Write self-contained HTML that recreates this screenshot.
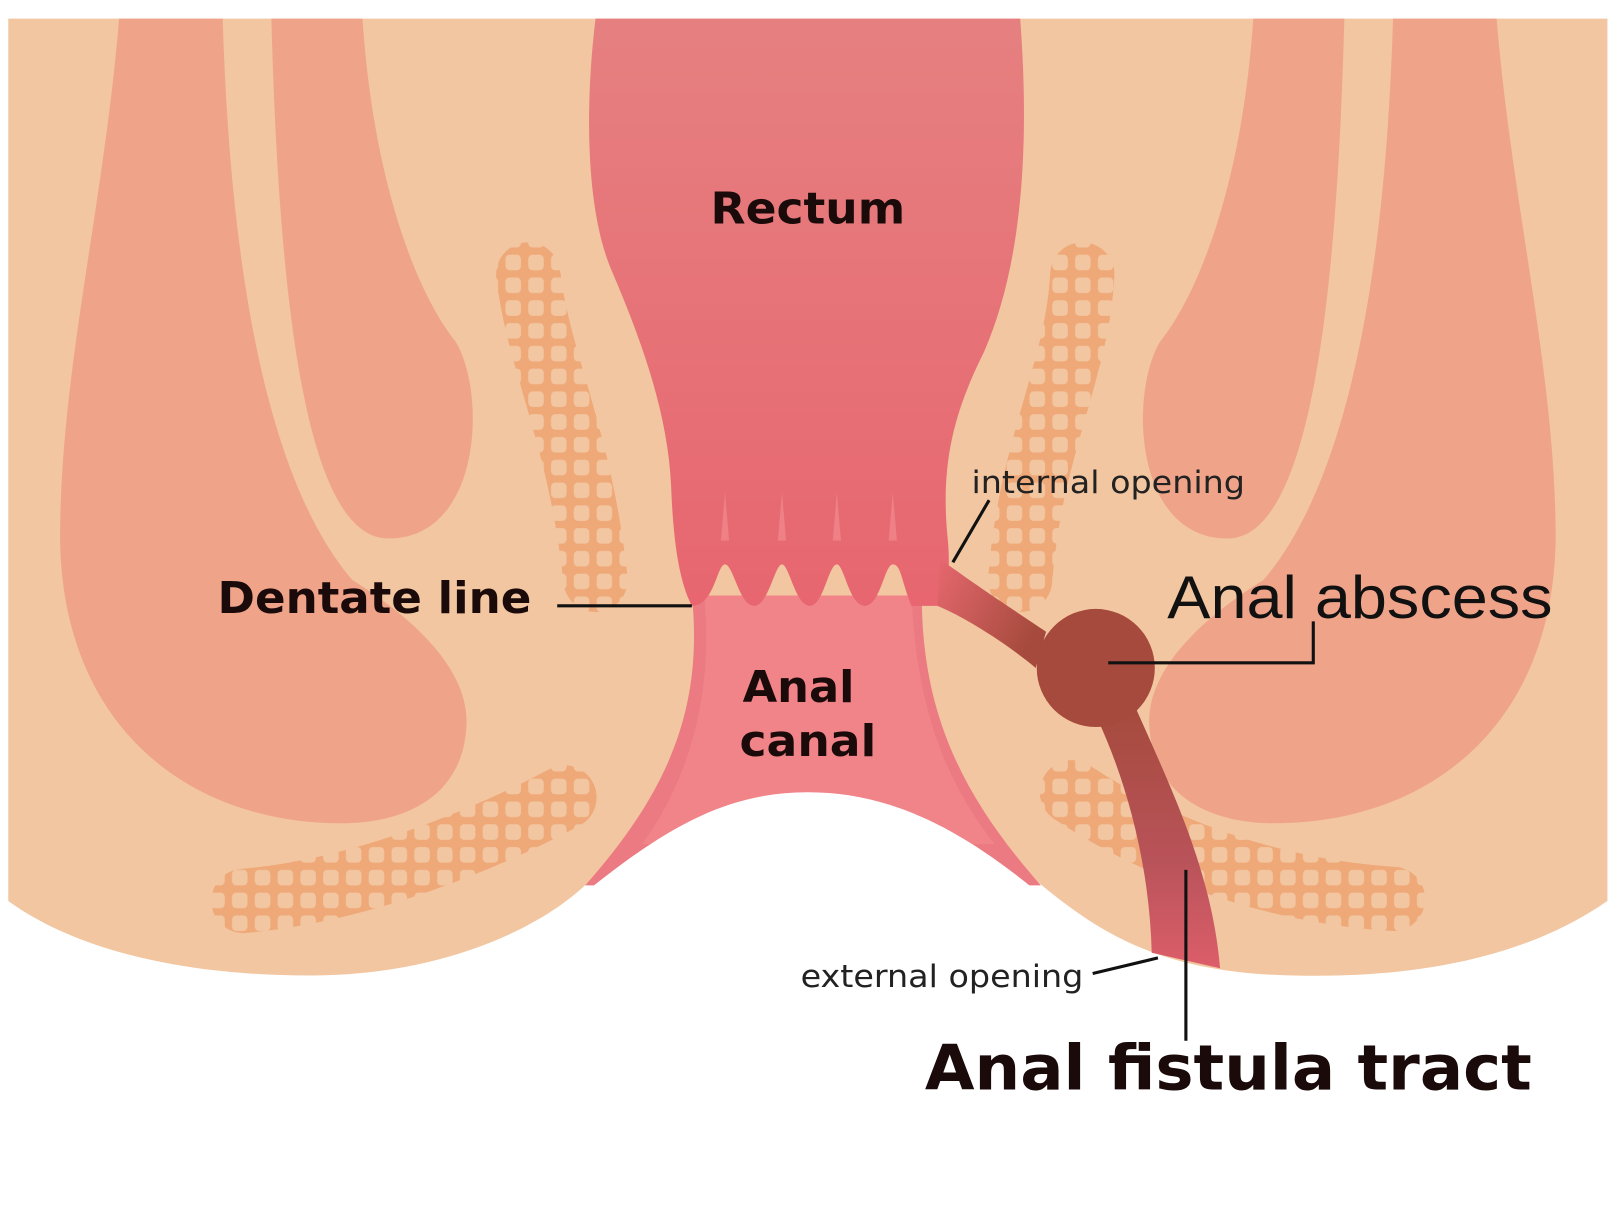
<!DOCTYPE html>
<html><head><meta charset="utf-8"><style>
html,body{margin:0;padding:0;background:#fff;}
svg{display:block;}
.b{font-family:"DejaVu Sans","Liberation Sans",sans-serif;font-weight:bold;fill:#1a0a0a;}
.n{font-family:"DejaVu Sans","Liberation Sans",sans-serif;fill:#222;}
.a{font-family:"Liberation Sans",sans-serif;fill:#111;}
</style></head><body>
<svg width="1624" height="1222" viewBox="0 0 1568 1180" preserveAspectRatio="none" xmlns="http://www.w3.org/2000/svg">
<defs>
<pattern id="grid" width="22" height="22" patternUnits="userSpaceOnUse">
<rect width="22" height="22" fill="#EFA878"/>
<rect x="4" y="4" width="15" height="15" rx="4" fill="#F2C6A0"/>
</pattern>
<linearGradient id="rg" x1="0" y1="0" x2="0" y2="1">
<stop offset="0" stop-color="#E68080"/><stop offset="1" stop-color="#E7666F"/>
</linearGradient>
<linearGradient id="fg" x1="0" y1="0" x2="0" y2="1">
<stop offset="0" stop-color="#A54A3C"/><stop offset="0.6" stop-color="#B9535A"/><stop offset="1" stop-color="#DC5E6A"/>
</linearGradient>
<linearGradient id="tg" x1="0" y1="0" x2="1" y2="0.5">
<stop offset="0" stop-color="#E6686F"/><stop offset="1" stop-color="#A54A3C"/>
</linearGradient>
</defs>
<rect width="1568" height="1180" fill="#fff"/>
<path d="M8,18 L1552,18 L1552,870 C1480,920 1380,945 1250,942 C1120,940 1060,900 1000,850 C920,780 860,765 780,765 C700,765 640,790 570,850 C520,900 420,942 300,942 C170,942 70,915 8,870 Z" fill="#F2C6A0"/>
<path d="M115,18 L215,18 C222,250 255,460 340,560 C420,610 455,660 450,705 C445,770 390,795 330,795 C180,795 60,700 58,520 C58,360 100,200 115,18 Z" fill="#EFA48A"/>
<path d="M262,18 L350,18 C360,170 400,280 440,330 C470,380 465,520 375,520 C300,520 270,320 262,18 Z" fill="#EFA48A"/>
<g transform="translate(1560,0) scale(-1,1)">
<path d="M115,18 L215,18 C222,250 255,460 340,560 C420,610 455,660 450,705 C445,770 390,795 330,795 C180,795 60,700 58,520 C58,360 100,200 115,18 Z" fill="#EFA48A"/>
<path d="M262,18 L350,18 C360,170 400,280 440,330 C470,380 465,520 375,520 C300,520 270,320 262,18 Z" fill="#EFA48A"/>
</g>
<path d="M510,265 C520,350 560,420 575,560" stroke="url(#grid)" stroke-width="62" fill="none" stroke-linecap="round"/>
<path d="M235,870 C350,860 470,810 545,770" stroke="url(#grid)" stroke-width="62" fill="none" stroke-linecap="round"/>
<path d="M1045,265 C1040,360 995,430 985,560" stroke="url(#grid)" stroke-width="62" fill="none" stroke-linecap="round"/>
<path d="M1035,765 C1110,815 1220,860 1345,868" stroke="url(#grid)" stroke-width="62" fill="none" stroke-linecap="round"/>
<path d="M668,575 C680,690 640,770 565,855 L1005,855 C930,770 890,690 890,575 Z" fill="#EC7A82"/>
<path d="M680,575 C690,680 660,760 620,815 L960,815 C910,750 885,680 880,575 Z" fill="#F08489"/>
<path d="M555,870 C640,800 700,765 780,765 C860,765 930,800 1012,870 Z" fill="#fff"/>
<path d="M575,18 L985,18 C995,150 985,260 950,340 C920,400 908,450 915,520 C918,550 915,575 905,585 L880,585 C870,560 870,545 862,545 C854,545 850,585 835,585 C820,585 815,545 808,545 C800,545 795,585 782,585 C768,585 762,545 755,545 C748,545 742,585 728,585 C714,585 708,545 700,545 C692,545 690,585 668,585 C655,560 650,520 648,470 C645,400 620,330 590,260 C565,200 565,100 575,18 Z" fill="url(#rg)"/>
<g fill="#EE8086">
<path d="M696,522 L700,475 L704,522 Z"/><path d="M751,522 L755,475 L759,522 Z"/><path d="M804,522 L808,475 L812,522 Z"/><path d="M858,522 L862,475 L866,522 Z"/>
</g>
<path d="M908,540 C935,560 980,590 1010,610 L1000,645 C970,620 930,595 905,585 Z" fill="url(#tg)"/>
<path d="M1095,680 C1130,760 1170,840 1178,935 L1112,920 C1110,840 1090,760 1060,695 Z" fill="url(#fg)"/>
<circle cx="1058" cy="645" r="57" fill="#A54A3C"/>
<text class="b" x="686" y="216" font-size="42" textLength="188" lengthAdjust="spacingAndGlyphs">Rectum</text>
<text class="b" x="210" y="592" font-size="42" textLength="303" lengthAdjust="spacingAndGlyphs">Dentate line</text>
<line x1="538" y1="585" x2="668" y2="585" stroke="#111" stroke-width="3"/>
<text class="b" x="717" y="678" font-size="42" textLength="108" lengthAdjust="spacingAndGlyphs">Anal</text>
<text class="b" x="714" y="730" font-size="42" textLength="132" lengthAdjust="spacingAndGlyphs">canal</text>
<text class="n" x="938" y="476" font-size="30" textLength="264" lengthAdjust="spacingAndGlyphs">internal opening</text>
<line x1="955" y1="483" x2="920" y2="543" stroke="#111" stroke-width="3"/>
<text class="a" x="1127" y="597" font-size="58" textLength="372" lengthAdjust="spacingAndGlyphs">Anal abscess</text>
<polyline points="1070,640 1268,640 1268,600" fill="none" stroke="#111" stroke-width="3"/>
<text class="n" x="773" y="953" font-size="30" textLength="273" lengthAdjust="spacingAndGlyphs">external opening</text>
<line x1="1055" y1="940" x2="1118" y2="925" stroke="#111" stroke-width="3"/>
<line x1="1145" y1="840" x2="1145" y2="1005" stroke="#111" stroke-width="3"/>
<text class="b" x="893" y="1052" font-size="60" textLength="586" lengthAdjust="spacingAndGlyphs">Anal fistula tract</text>
</svg>
</body></html>
